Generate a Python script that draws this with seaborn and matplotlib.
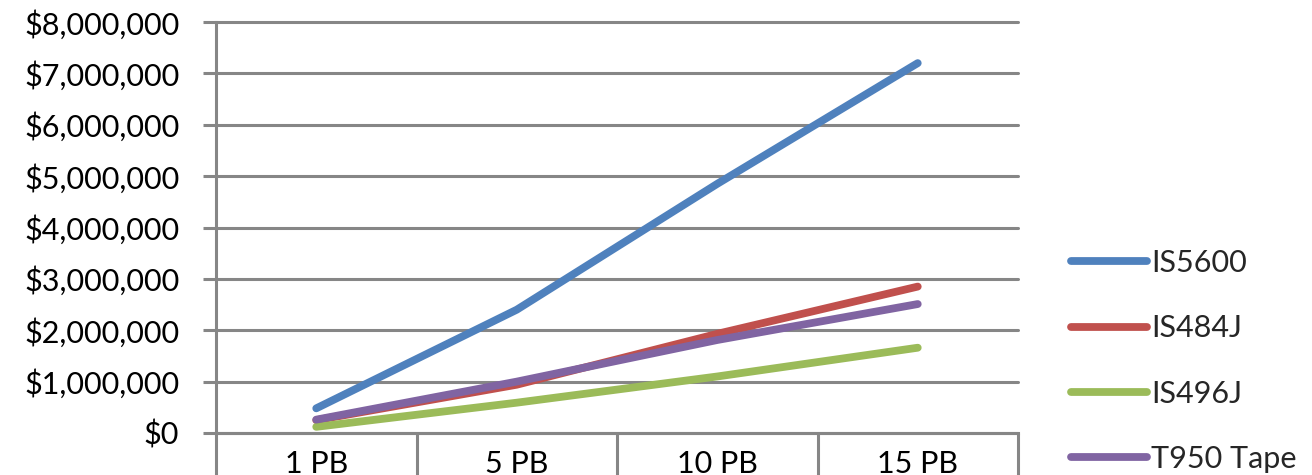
import matplotlib
matplotlib.use("Agg")
import matplotlib.pyplot as plt
from matplotlib.ticker import FuncFormatter, FixedLocator
import seaborn as sns
import pandas as pd

# Storage capacity tiers and total cost per system (USD)
capacities = ["1 PB", "5 PB", "10 PB", "15 PB"]
is5600 = [480000, 2400000, 4850000, 7200000]
is484j = [250000, 940000, 1930000, 2850000]
is496j = [120000, 590000, 1100000, 1660000]
t950_tape = [260000, 1000000, 1810000, 2510000]

systems = ["IS5600", "IS484J", "IS496J", "T950 Tape"]
colors = ["#4F81BD", "#C0504D", "#9BBB59", "#8064A2"]

rows = []
for name, vals in zip(systems, [is5600, is484j, is496j, t950_tape]):
    for cap, v in zip(capacities, vals):
        rows.append({"capacity": cap, "cost": v, "system": name})
df = pd.DataFrame(rows)

sns.set_style("white")
plt.rcParams["font.family"] = ["Lato", "DejaVu Sans"]

W, H = 1312, 475
fig = plt.figure(figsize=(W / 100, H / 100), dpi=100)
ax = fig.add_axes([216 / W, (H - 433) / H, (1018 - 216) / W, (433 - 22) / H])

grey = "#868686"
lw = 5.6

sns.lineplot(data=df, x="capacity", y="cost", hue="system", hue_order=systems,
             palette=colors, linewidth=lw, sort=False, legend=False, ax=ax,
             solid_capstyle="round", solid_joinstyle="round")

ax.set_xlim(-0.5, len(capacities) - 0.5)
ax.set_ylim(0, 8000000)
ax.set_xlabel("")
ax.set_ylabel("")

# y axis: dollar ticks with gridlines
ax.yaxis.set_major_locator(FixedLocator(range(0, 8000001, 1000000)))
ax.yaxis.set_major_formatter(FuncFormatter(lambda v, p: f"${v:,.0f}"))
ax.yaxis.grid(True, color=grey, linewidth=2.2)
ax.set_axisbelow(True)
for gl in ax.get_ygridlines():
    gl.set_clip_on(False)
ax.tick_params(axis="y", which="major", length=9.5, width=2.2, color=grey,
               pad=17, labelsize=22, labelcolor="#000000", left=True)

# x axis: category labels centred, long separator ticks between categories
ax.set_xticks(range(len(capacities)))
ax.set_xticklabels(capacities)
ax.set_xticks([i - 0.5 for i in range(len(capacities) + 1)], minor=True)
ax.tick_params(axis="x", which="major", length=0, pad=12, labelsize=22,
               labelcolor="#000000")
ax.tick_params(axis="x", which="minor", length=40, width=2.2, color=grey,
               bottom=True, direction="out")

for side in ["top", "right"]:
    ax.spines[side].set_visible(False)
for side in ["left", "bottom"]:
    ax.spines[side].set_color(grey)
    ax.spines[side].set_linewidth(2.2)

# legend on the right
handles = [plt.Line2D([0], [0], color=c, linewidth=lw, solid_capstyle="round")
           for c in colors]
fig.legend(handles, systems, loc="upper left",
           bbox_to_anchor=(1071 / W, 1 - 249 / H), frameon=False,
           fontsize=22, handlelength=2.5, handletextpad=0.12,
           labelspacing=1.22, borderpad=0, borderaxespad=0)

fig.savefig("out.png", dpi=100)
